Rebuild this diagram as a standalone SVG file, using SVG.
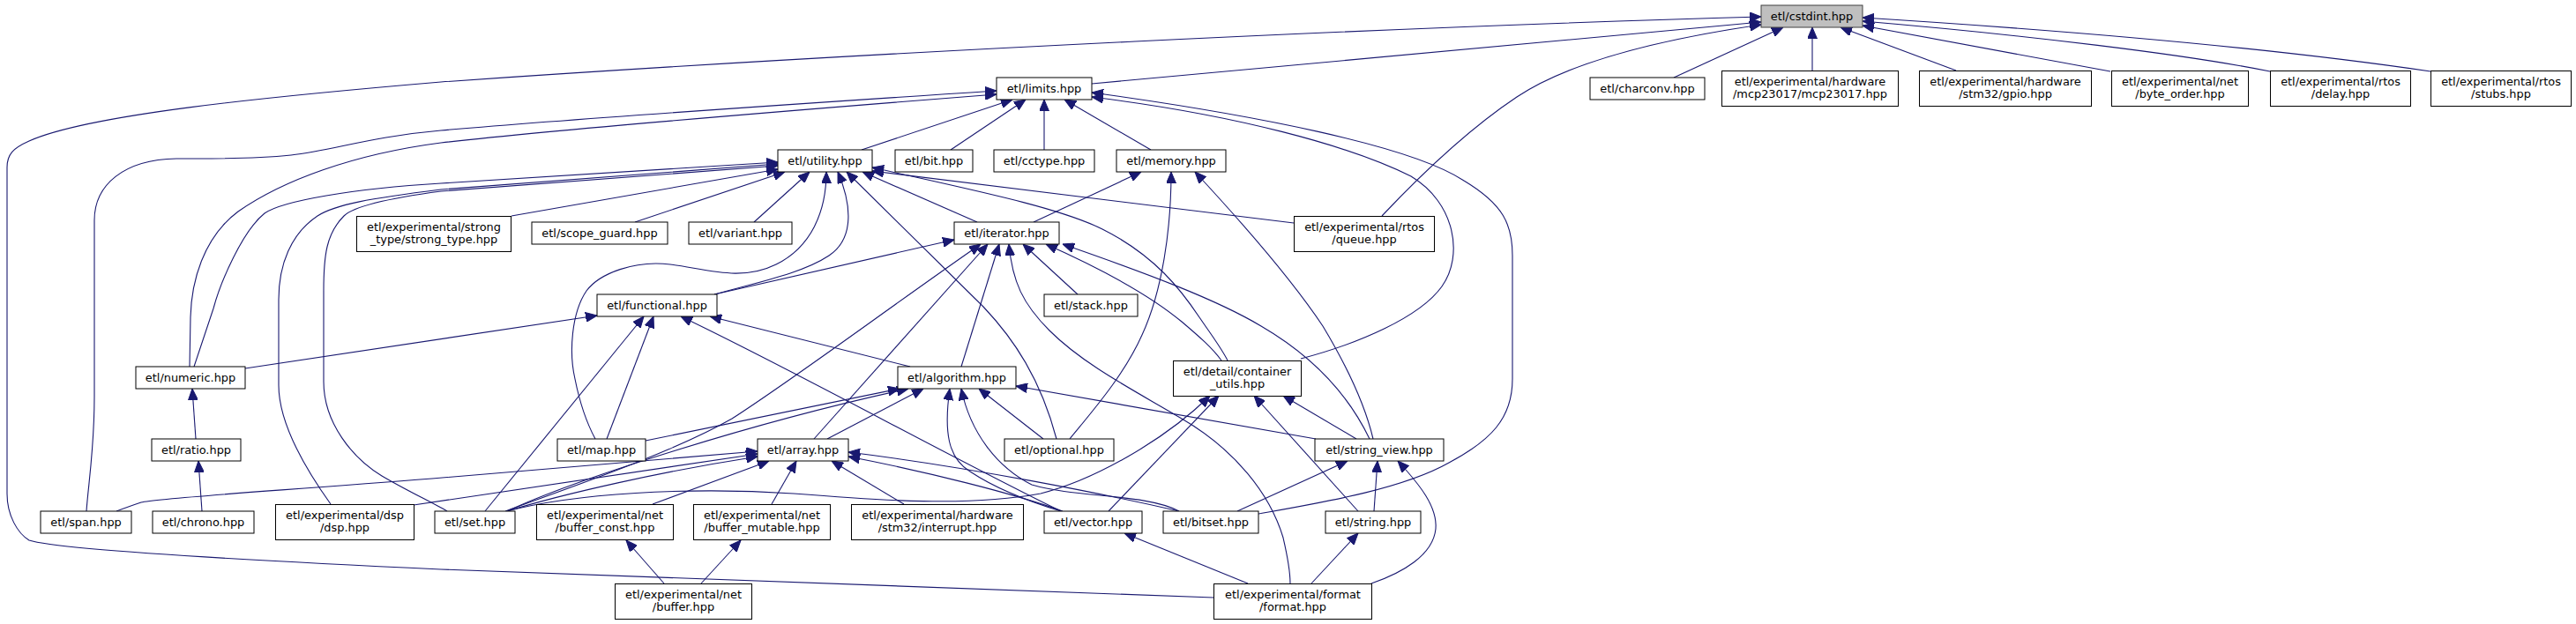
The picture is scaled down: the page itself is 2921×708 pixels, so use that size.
<svg xmlns="http://www.w3.org/2000/svg" width="2921" height="708" viewBox="0 0 2921 708">
<defs>
<style>
.n rect{fill:#ffffff;stroke:#000000;stroke-width:1}
.n.root rect{fill:#bfbfbf;stroke:#404040}
.n text{font-family:"DejaVu Sans",Verdana,sans-serif;font-size:12.9px;fill:#000000;text-anchor:middle}
.e path{fill:none;stroke:#191970;stroke-width:1.1;marker-start:url(#arr)}
</style>
<marker id="arr" markerUnits="userSpaceOnUse" markerWidth="13" markerHeight="11" viewBox="0 0 13 11" refX="13" refY="5.5" orient="auto-start-reverse"><path d="M0,0 L13,5.5 L0,11 z" fill="#191970" stroke="#191970" stroke-width="1"/></marker>
</defs>
<rect width="2921" height="708" fill="#ffffff"/>
<g id="connectors" class="e">
<path d="M1997,25 L1238,95"/>
<path d="M1997,19 C1600,30 1000,58 500,93 C300,110 100,130 33,160 C15,168 8,175 8,190 L8,560 C8,585 20,605 33,613 C60,622 200,632 500,646 L1376,678"/>
<path d="M2022,31 L1898,88"/>
<path d="M2055,31 L2055,80"/>
<path d="M2087,31 L2218,80"/>
<path d="M2112,29 L2393,81"/>
<path d="M2112,24 C2300,40 2480,62 2574,81"/>
<path d="M2112,20 C2400,38 2600,58 2756,81"/>
<path d="M1997,28 C1880,45 1780,70 1720,110 C1660,150 1600,210 1567,245"/>
<path d="M1148,113 L977,170"/>
<path d="M1163,113 L1078,170"/>
<path d="M1184,113 L1184,170"/>
<path d="M1207,113 L1305,170"/>
<path d="M1238,110 C1400,130 1530,165 1600,200 C1650,230 1660,290 1635,325 C1610,360 1540,390 1475,407"/>
<path d="M1238,105 C1420,130 1600,165 1660,205 C1705,232 1715,255 1715,290 L1715,430 C1715,475 1690,500 1643,525 C1590,555 1500,570 1427,583"/>
<path d="M1130,103 C900,118 650,135 500,148 C420,155 380,170 330,176 C280,181 230,180 200,180 C140,181 107,210 107,250 L107,450 C107,510 100,550 98,580"/>
<path d="M1130,107 C900,125 650,145 500,162 C400,175 320,205 270,240 C230,270 217,320 216,360 L215,416"/>
<path d="M882,184 L500,208 C400,214 320,228 300,242 C275,262 250,320 242,350 L220,416"/>
<path d="M882,186 L500,215 C420,225 380,232 360,245 C330,265 316,300 316,340 L316,437 C316,480 345,530 375,572"/>
<path d="M882,188 L500,217 C440,225 400,235 390,245 C370,265 367,290 367,330 L367,433 C367,480 400,520 433,540 C460,556 490,570 507,580"/>
<path d="M882,192 L580,245"/>
<path d="M890,195 L720,252"/>
<path d="M918,195 L855,252"/>
<path d="M937,195 C937,240 920,280 880,300 C840,320 800,305 760,300 C720,295 680,310 665,330 C648,355 645,400 652,430 C658,460 668,485 675,498"/>
<path d="M950,195 C965,230 970,270 940,290 C910,310 860,320 810,334"/>
<path d="M960,195 L1115,348 C1150,385 1180,430 1198,498"/>
<path d="M978,195 L1108,252"/>
<path d="M989,190 C1100,215 1200,235 1250,260 C1310,290 1340,330 1360,360 C1375,382 1385,395 1392,409"/>
<path d="M989,194 L1467,253"/>
<path d="M1082,272 L810,334"/>
<path d="M1112,277 C1000,355 900,430 830,475 C760,515 640,555 573,580"/>
<path d="M1120,277 L923,498"/>
<path d="M1133,277 L1090,416"/>
<path d="M1144,277 C1148,320 1160,345 1190,375 C1230,415 1290,445 1340,475 C1400,510 1440,560 1455,610 C1462,640 1463,655 1463,662"/>
<path d="M1160,277 L1222,334"/>
<path d="M1186,277 C1260,310 1310,340 1340,365 C1360,382 1375,395 1385,409"/>
<path d="M1205,277 C1300,310 1380,340 1430,370 C1490,405 1530,450 1553,498"/>
<path d="M1294,195 L1172,252"/>
<path d="M1328,195 C1328,260 1318,330 1295,380 C1275,425 1240,465 1213,498"/>
<path d="M1355,195 C1420,265 1470,325 1500,370 C1530,420 1548,460 1557,498"/>
<path d="M677,358 L278,418"/>
<path d="M730,359 L550,580"/>
<path d="M741,359 L688,498"/>
<path d="M772,359 C900,420 1080,520 1203,580"/>
<path d="M805,359 L1032,416"/>
<path d="M1020,441 L732,500"/>
<path d="M1030,441 C850,480 650,545 575,580"/>
<path d="M1047,441 L938,498"/>
<path d="M1077,441 C1070,490 1075,520 1100,535 C1130,555 1170,570 1203,580"/>
<path d="M1090,441 C1100,490 1130,530 1170,550 C1220,565 1300,560 1337,580"/>
<path d="M1110,441 L1183,498"/>
<path d="M1152,438 L1492,498"/>
<path d="M859,512 L490,543 C300,558 180,565 160,570 C148,574 140,577 132,580"/>
<path d="M859,515 L469,573"/>
<path d="M859,518 C750,535 640,560 575,580"/>
<path d="M943,523 L1025,572"/>
<path d="M872,523 L740,572"/>
<path d="M903,523 L875,572"/>
<path d="M962,518 C1050,535 1150,560 1205,580"/>
<path d="M962,513 C1100,530 1250,560 1337,580"/>
<path d="M1372,449 C1320,500 1240,545 1180,560 C1100,575 1000,568 900,560 C780,552 650,560 575,580"/>
<path d="M1382,449 L1257,580"/>
<path d="M1422,449 L1540,580"/>
<path d="M1455,449 L1538,498"/>
<path d="M1528,523 L1403,580"/>
<path d="M1562,523 L1558,580"/>
<path d="M1585,523 C1610,550 1630,575 1628,600 C1625,630 1590,650 1555,662"/>
<path d="M1540,605 L1487,662"/>
<path d="M1275,605 L1415,662"/>
<path d="M710,613 L753,662"/>
<path d="M840,613 L795,662"/>
<path d="M218,441 L222,498"/>
<path d="M225,523 L229,580"/>
</g>
<g id="cstdint" class="n root"><rect x="1997" y="6" width="115" height="25"/><text x="2054.5" y="23">etl/cstdint.hpp</text></g>
<g id="limits" class="n"><rect x="1130" y="88" width="108" height="25"/><text x="1184" y="105">etl/limits.hpp</text></g>
<g id="charconv" class="n"><rect x="1803" y="88" width="130" height="25"/><text x="1868" y="105">etl/charconv.hpp</text></g>
<g id="mcp23017" class="n"><rect x="1952.5" y="80.5" width="200" height="40"/><text x="2052.5" y="97">etl/experimental/hardware</text><text x="2052.5" y="111">/mcp23017/mcp23017.hpp</text></g>
<g id="gpio" class="n"><rect x="2176.5" y="80.5" width="195" height="40"/><text x="2274" y="97">etl/experimental/hardware</text><text x="2274" y="111">/stm32/gpio.hpp</text></g>
<g id="byte_order" class="n"><rect x="2394.5" y="80.5" width="155" height="40"/><text x="2472" y="97">etl/experimental/net</text><text x="2472" y="111">/byte_order.hpp</text></g>
<g id="delay" class="n"><rect x="2574.5" y="80.5" width="159" height="40"/><text x="2654" y="97">etl/experimental/rtos</text><text x="2654" y="111">/delay.hpp</text></g>
<g id="stubs" class="n"><rect x="2756.5" y="80.5" width="159" height="40"/><text x="2836" y="97">etl/experimental/rtos</text><text x="2836" y="111">/stubs.hpp</text></g>
<g id="utility" class="n"><rect x="882" y="170" width="107" height="25"/><text x="935.5" y="187">etl/utility.hpp</text></g>
<g id="bit" class="n"><rect x="1015" y="170" width="88" height="25"/><text x="1059" y="187">etl/bit.hpp</text></g>
<g id="cctype" class="n"><rect x="1127" y="170" width="114" height="25"/><text x="1184" y="187">etl/cctype.hpp</text></g>
<g id="memory" class="n"><rect x="1266" y="170" width="124" height="25"/><text x="1328" y="187">etl/memory.hpp</text></g>
<g id="strong_type" class="n"><rect x="404.5" y="245.5" width="175" height="40"/><text x="492" y="262">etl/experimental/strong</text><text x="492" y="276">_type/strong_type.hpp</text></g>
<g id="scope_guard" class="n"><rect x="603" y="252" width="154" height="25"/><text x="680" y="269">etl/scope_guard.hpp</text></g>
<g id="variant" class="n"><rect x="781" y="252" width="117" height="25"/><text x="839.5" y="269">etl/variant.hpp</text></g>
<g id="iterator" class="n"><rect x="1082" y="252" width="119" height="25"/><text x="1141.5" y="269">etl/iterator.hpp</text></g>
<g id="queue" class="n"><rect x="1467.5" y="245.5" width="159" height="40"/><text x="1547" y="262">etl/experimental/rtos</text><text x="1547" y="276">/queue.hpp</text></g>
<g id="functional" class="n"><rect x="677" y="334" width="136" height="25"/><text x="745" y="351">etl/functional.hpp</text></g>
<g id="stack" class="n"><rect x="1184" y="334" width="106" height="25"/><text x="1237" y="351">etl/stack.hpp</text></g>
<g id="numeric" class="n"><rect x="154" y="416" width="124" height="25"/><text x="216" y="433">etl/numeric.hpp</text></g>
<g id="algorithm" class="n"><rect x="1018" y="416" width="134" height="25"/><text x="1085" y="433">etl/algorithm.hpp</text></g>
<g id="container_utils" class="n"><rect x="1330.5" y="409.5" width="145" height="40"/><text x="1403" y="426">etl/detail/container</text><text x="1403" y="440">_utils.hpp</text></g>
<g id="ratio" class="n"><rect x="172" y="498" width="101" height="25"/><text x="222.5" y="515">etl/ratio.hpp</text></g>
<g id="map" class="n"><rect x="632" y="498" width="100" height="25"/><text x="682" y="515">etl/map.hpp</text></g>
<g id="array" class="n"><rect x="859" y="498" width="103" height="25"/><text x="910.5" y="515">etl/array.hpp</text></g>
<g id="optional" class="n"><rect x="1139" y="498" width="124" height="25"/><text x="1201" y="515">etl/optional.hpp</text></g>
<g id="string_view" class="n"><rect x="1491" y="498" width="146" height="25"/><text x="1564" y="515">etl/string_view.hpp</text></g>
<g id="span" class="n"><rect x="46" y="580" width="103" height="25"/><text x="97.5" y="597">etl/span.hpp</text></g>
<g id="chrono" class="n"><rect x="173" y="580" width="115" height="25"/><text x="230.5" y="597">etl/chrono.hpp</text></g>
<g id="dsp" class="n"><rect x="312.5" y="572.5" width="157" height="40"/><text x="391" y="589">etl/experimental/dsp</text><text x="391" y="603">/dsp.hpp</text></g>
<g id="set" class="n"><rect x="493" y="580" width="91" height="25"/><text x="538.5" y="597">etl/set.hpp</text></g>
<g id="buffer_const" class="n"><rect x="608.5" y="572.5" width="155" height="40"/><text x="686" y="589">etl/experimental/net</text><text x="686" y="603">/buffer_const.hpp</text></g>
<g id="buffer_mutable" class="n"><rect x="786.5" y="572.5" width="155" height="40"/><text x="864" y="589">etl/experimental/net</text><text x="864" y="603">/buffer_mutable.hpp</text></g>
<g id="interrupt" class="n"><rect x="965.5" y="572.5" width="195" height="40"/><text x="1063" y="589">etl/experimental/hardware</text><text x="1063" y="603">/stm32/interrupt.hpp</text></g>
<g id="vector" class="n"><rect x="1184" y="580" width="111" height="25"/><text x="1239.5" y="597">etl/vector.hpp</text></g>
<g id="bitset" class="n"><rect x="1319" y="580" width="108" height="25"/><text x="1373" y="597">etl/bitset.hpp</text></g>
<g id="string" class="n"><rect x="1503" y="580" width="108" height="25"/><text x="1557" y="597">etl/string.hpp</text></g>
<g id="buffer" class="n"><rect x="697.5" y="662.5" width="155" height="40"/><text x="775" y="679">etl/experimental/net</text><text x="775" y="693">/buffer.hpp</text></g>
<g id="format" class="n"><rect x="1376.5" y="662.5" width="179" height="40"/><text x="1466" y="679">etl/experimental/format</text><text x="1466" y="693">/format.hpp</text></g>
</svg>
